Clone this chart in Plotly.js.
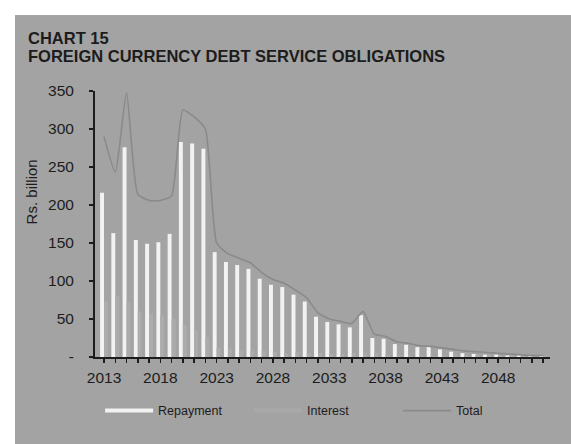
<!DOCTYPE html>
<html>
<head>
<meta charset="utf-8">
<script src="https://cdn.plot.ly/plotly-3.0.1.min.js"></script>
<style>
  html, body { margin: 0; padding: 0; background: #ffffff; width: 571px; height: 444px; overflow: hidden; }
  #chart { position: absolute; left: 15px; top: 15px; width: 556px; height: 429px; }
</style>
</head>
<body>
<div id="chart"></div>
<script>
const years = [2013,2014,2015,2016,2017,2018,2019,2020,2021,2022,
               2023,2024,2025,2026,2027,2028,2029,2030,2031,2032,
               2033,2034,2035,2036,2037,2038,2039,2040,2041,2042,
               2043,2044,2045,2046,2047,2048,2049,2050,2051,2052];
const repayment = [216,163,276,154,149,151,162,283,281,274,
                   138,125,121,116,103,95,92,82,73,53,
                   46,43,39,55,25,24,17,16,13,13,
                   10,7,5,4,3,3,2,2,1,1];
const interest = [74,80,72,60,57,55,50,42,35,26,
                  12,11,9,8,8,7,5,6,5,5,
                  4,4,5,5,5,3,3,2,2,1,
                  2,3,3,3,3,2,2,1,1,1];
const total = repayment.map((r, i) => r + interest[i]);
const yTickVals = [0,50,100,150,200,250,300,350];
const yTickText = ['-','50','100','150','200','250','300','350'];
const xLabelYears = [2013,2018,2023,2028,2033,2038,2043,2048];
const xTickText = years.map(y => xLabelYears.includes(y) ? String(y) : '');
const titleLines = ['CHART 15', 'FOREIGN CURRENCY DEBT SERVICE OBLIGATIONS'];

const bg = '#a3a3a3';
const ink = '#1c1c1c';
const font = 'Liberation Sans, Arial, sans-serif';

const traces = [
  { type: 'bar', x: years, y: repayment, name: 'Repayment', marker: { color: '#f2f2f2' }, showlegend: false },
  { type: 'bar', x: years, y: interest, name: 'Interest', marker: { color: '#acacac' }, showlegend: false },
  { type: 'scatter', mode: 'lines', x: years, y: total, name: 'Total', line: { color: '#8a8a8a', width: 1.6, shape: 'spline', smoothing: 0.5 }, showlegend: false },
  { type: 'scatter', mode: 'lines', x: [null], y: [null], name: 'Repayment', line: { color: '#f2f2f2', width: 4 } },
  { type: 'scatter', mode: 'lines', x: [null], y: [null], name: 'Interest', line: { color: '#a9a9a9', width: 4 } },
  { type: 'scatter', mode: 'lines', x: [null], y: [null], name: 'Total', line: { color: '#8a8a8a', width: 1.6 } }
];

const layout = {
  width: 556, height: 429,
  paper_bgcolor: bg, plot_bgcolor: bg,
  margin: { l: 80, r: 21, t: 76, b: 87, autoexpand: false },
  font: { family: font, color: ink, size: 14 },
  barmode: 'group', bargap: 0.3, bargroupgap: 0,
  xaxis: {
    range: [2012.2, 2052.6],
    tickvals: years, ticktext: xTickText,
    ticks: 'outside', ticklen: 4, tickwidth: 1.5, tickcolor: ink,
    showline: true, linecolor: ink, linewidth: 2,
    showgrid: false, zeroline: false, automargin: false,
    ticklabelstandoff: 1,
    tickfont: { size: 15.5, color: ink }, tickangle: 0
  },
  yaxis: {
    range: [0, 350],
    tickvals: yTickVals, ticktext: yTickText,
    ticks: 'outside', ticklen: 4, tickwidth: 1.5, tickcolor: ink,
    showline: true, linecolor: ink, linewidth: 2,
    showgrid: false, zeroline: false, automargin: false,
    ticklabelstandoff: 12,
    tickfont: { size: 15.5, color: ink }
  },
  annotations: [
    { text: '<b>' + titleLines[0] + '</b>', xref: 'paper', yref: 'paper', x: -0.1516, y: 1.240,
      xanchor: 'left', yanchor: 'top', showarrow: false, font: { size: 16.5, color: ink } },
    { text: '<b>' + titleLines[1] + '</b>', xref: 'paper', yref: 'paper', x: -0.1516, y: 1.172,
      xanchor: 'left', yanchor: 'top', showarrow: false, font: { size: 16.5, color: ink } },
    { text: 'Rs. billion', xref: 'paper', yref: 'paper', x: -0.140, y: 0.62,
      textangle: -90, showarrow: false, font: { size: 15, color: ink },
      xanchor: 'center', yanchor: 'middle' }
  ],
  legend: {
    orientation: 'h', xref: 'container', yref: 'container',
    x: 0.153, y: 0.077, xanchor: 'left', yanchor: 'middle',
    bgcolor: 'rgba(0,0,0,0)', itemwidth: 48,
    entrywidth: 86, entrywidthmode: 'pixels',
    font: { size: 12.5, color: ink }
  },
  showlegend: true
};

Plotly.newPlot('chart', traces, layout, { displayModeBar: false, staticPlot: true });
</script>
</body>
</html>
